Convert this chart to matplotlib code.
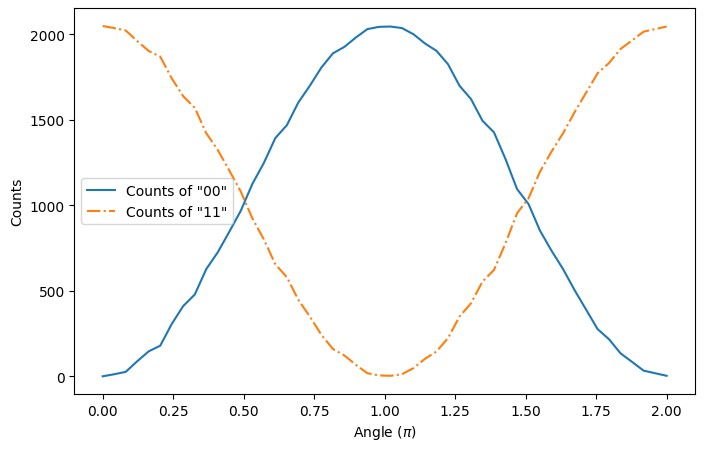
import numpy as np
import matplotlib
matplotlib.use("Agg")
import matplotlib.pyplot as plt

# Angle in units of pi, 50 samples from 0 to 2
angles = np.linspace(0, 2, 50)

# counts (2048 shots)
counts_00 = [0, 12, 26, 88, 146, 179, 306, 411, 478, 627,
             725, 845, 968, 1124, 1247, 1393, 1468, 1601, 1699, 1805,
             1888, 1926, 1981, 2030, 2043, 2045, 2036, 2000, 1946, 1903,
             1825, 1699, 1621, 1494, 1426, 1270, 1095, 1007, 851, 734,
             627, 504, 390, 276, 216, 134, 84, 33, 18, 3]
counts_11 = [2048, 2036, 2022, 1960, 1902, 1869, 1742, 1637, 1570, 1421,
             1323, 1203, 1080, 924, 801, 655, 580, 447, 349, 243,
             160, 122, 67, 18, 5, 3, 12, 48, 102, 145,
             223, 349, 427, 554, 622, 778, 953, 1041, 1197, 1314,
             1421, 1544, 1658, 1772, 1832, 1914, 1964, 2015, 2030, 2045]

fig, ax = plt.subplots(figsize=(7.04, 4.52), dpi=100)
fig.subplots_adjust(left=0.1058, right=0.987, top=0.979, bottom=0.1265)

ax.plot(angles, counts_00, label='Counts of "00"')
ax.plot(angles, counts_11, '-.', label='Counts of "11"')
ax.set_xlabel(r"Angle ($\pi$)")
ax.set_ylabel("Counts")
ax.legend(loc="center left")

fig.savefig("out.png", dpi=100)
